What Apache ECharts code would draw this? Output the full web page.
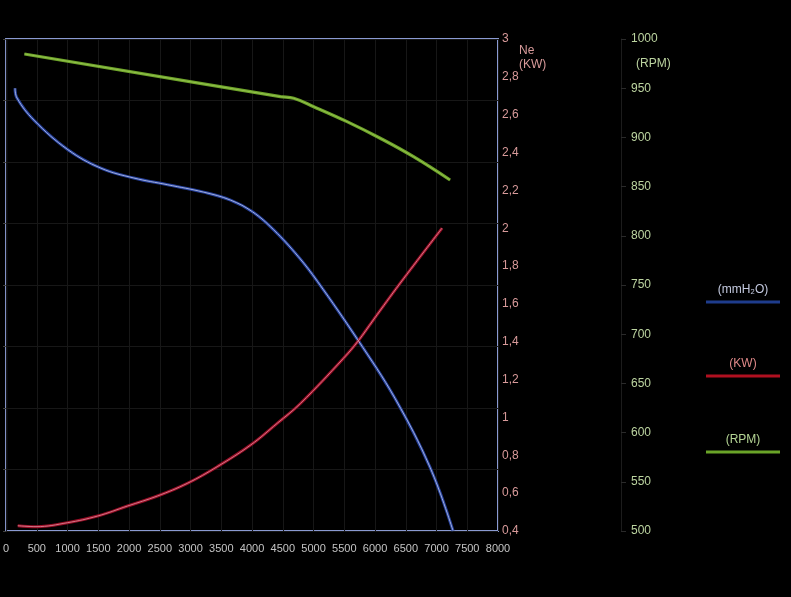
<!DOCTYPE html>
<html>
<head>
<meta charset="utf-8">
<script src="https://cdn.jsdelivr.net/npm/echarts@6/dist/echarts.min.js"></script>
<style>
html,body{margin:0;padding:0;background:#000;}
#chart{width:791px;height:597px;}
</style>
</head>
<body>
<div id="chart"></div>
<script>
// Flow axis ticks (m3/h)
const flowTicks = [0,500,1000,1500,2000,2500,3000,3500,4000,4500,5000,5500,6000,6500,7000,7500,8000];

// Pressure curve (mmH2O)
const flowP = [146,178,454,1006,1542,2077,2629,3213,3651,4008,4349,4754,5063,5712,6329,6897,7270];
const pressure = [72.0,70.4,66.8,62.0,59.0,57.4,56.3,55.1,53.8,51.9,49.0,44.6,40.6,31.2,21.5,10.3,0];

// Power curve Ne (KW)
const flowN = [190,487,1001,1488,1975,2462,2948,3435,3976,4409,4787,5485,5728,5972,6410,7091];
const power = [0.428,0.423,0.444,0.479,0.532,0.585,0.652,0.740,0.854,0.969,1.074,1.312,1.405,1.515,1.710,2.001];

// Speed curve (RPM)
const flowR = [298,4462,4678,5003,5545,6085,6626,7221];
const rpm = [984.8,941.4,939.7,931.2,916.0,899.1,880.4,856.7];

const zip = (xs, ys) => xs.map((x, i) => [x, ys[i]]);

function layered(name, data, yIdx, outer, inner, w) {
  return [
    {name: name, type: 'line', yAxisIndex: yIdx, data: data, showSymbol: false, smooth: 0.4,
     lineStyle: {color: outer, width: w}, z: 3, silent: true},
    {name: name + '_hl', type: 'line', yAxisIndex: yIdx, data: data, showSymbol: false, smooth: 0.4,
     lineStyle: {color: inner, width: 0.8}, z: 4, silent: true}
  ];
}

const chart = echarts.init(document.getElementById('chart'));
const fontFam = '"Liberation Sans", Arial, sans-serif';

chart.setOption({
  backgroundColor: '#000',
  animation: false,
  grid: {left: 5, right: 293, top: 39, bottom: 66, show: true, borderColor: '#8a9ad2', borderWidth: 2, backgroundColor: 'transparent'},
  xAxis: {
    type: 'value', min: flowTicks[0], max: flowTicks[flowTicks.length - 1], interval: 500,
    axisLine: {show: false}, axisTick: {show: false},
    splitLine: {show: true, lineStyle: {color: '#171717', width: 1}},
    axisLabel: {color: '#c4c4c4', fontSize: 11, fontFamily: fontFam, margin: 12, formatter: v => String(v)}
  },
  yAxis: [
    {
      type: 'value', min: 0, max: 80, interval: 10, position: 'left',
      axisLine: {show: false}, axisLabel: {show: false},
      axisTick: {show: true, length: 3, lineStyle: {color: '#444'}},
      splitLine: {show: true, lineStyle: {color: '#171717', width: 1}}
    },
    {
      type: 'value', min: 0.4, max: 3, interval: 0.2, position: 'right',
      axisLine: {show: false}, axisTick: {show: false}, splitLine: {show: false},
      axisLabel: {color: '#d89a9a', fontSize: 12, fontFamily: fontFam, margin: 4,
        formatter: v => String(Math.round(v * 10) / 10).replace('.', ',')}
    },
    {
      type: 'value', min: 500, max: 1000, interval: 50, position: 'right', offset: 123,
      axisLine: {show: true, lineStyle: {color: '#1c1c1c', width: 1}},
      axisTick: {show: true, length: 5, lineStyle: {color: '#2a2a2a'}},
      splitLine: {show: false},
      axisLabel: {color: '#bcd4a0', fontSize: 12, fontFamily: fontFam, margin: 10, formatter: v => String(v)}
    }
  ],
  series: [
    ...layered('(mmH2O)', zip(flowP, pressure), 0, '#26409a', '#c0caee', 3),
    ...layered('(KW)', zip(flowN, power), 1, '#980e26', '#e090a0', 3),
    ...layered('(RPM)', zip(flowR, rpm), 2, '#6ea42a', '#9cc855', 3.2)
  ],
  graphic: [
    {type: 'text', left: 519, top: 44, style: {text: 'Ne\n(KW)', fill: '#d89a9a', font: '12px ' + fontFam, lineHeight: 14}},
    {type: 'text', left: 636, top: 58, style: {text: '(RPM)', fill: '#bcd4a0', font: '12px ' + fontFam}},
    {type: 'text', x: 743, y: 290, style: {text: '(mmH₂O)', fill: '#c4cae0', font: '12px ' + fontFam, align: 'center', verticalAlign: 'middle'}},
    {type: 'line', shape: {x1: 706, y1: 302, x2: 780, y2: 302}, style: {stroke: '#1e3c8c', lineWidth: 3}},
    {type: 'text', x: 743, y: 364, style: {text: '(KW)', fill: '#e08888', font: '12px ' + fontFam, align: 'center', verticalAlign: 'middle'}},
    {type: 'line', shape: {x1: 706, y1: 376, x2: 780, y2: 376}, style: {stroke: '#b01020', lineWidth: 3}},
    {type: 'text', x: 743, y: 440, style: {text: '(RPM)', fill: '#b4d494', font: '12px ' + fontFam, align: 'center', verticalAlign: 'middle'}},
    {type: 'line', shape: {x1: 706, y1: 452, x2: 780, y2: 452}, style: {stroke: '#6aa428', lineWidth: 3}}
  ]
});
</script>
</body>
</html>
